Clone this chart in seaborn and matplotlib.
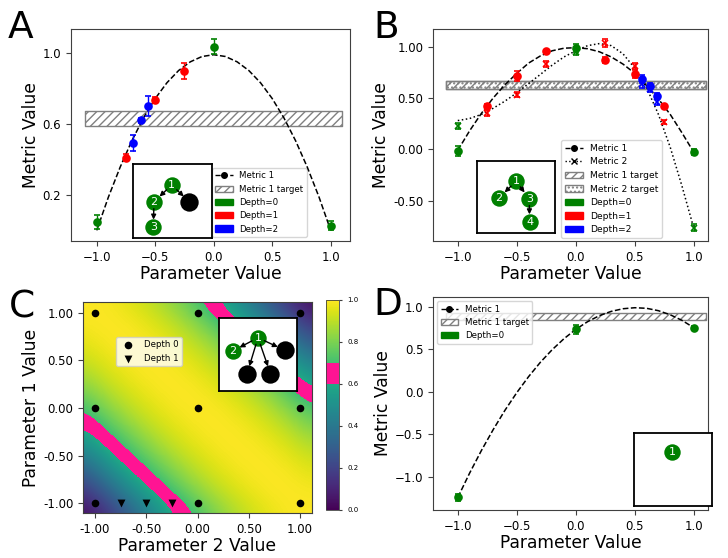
import numpy as np
import matplotlib
matplotlib.use("Agg")
import matplotlib.pyplot as plt
import seaborn as sns
from matplotlib.colors import ListedColormap
from matplotlib.lines import Line2D
import matplotlib.patches as mpatches

# ---------------- data ----------------
# Panel A
a_green_x = [-1.0, 0.0, 1.0]
a_green_y = [0.045, 1.035, 0.025]
a_green_e = [0.04, 0.042, 0.025]
a_red_x = [-0.75, -0.5, -0.25]
a_red_y = [0.41, 0.735, 0.90]
a_red_e = [0.02, 0.018, 0.045]
a_blue_x = [-0.6875, -0.625, -0.5625]
a_blue_y = [0.495, 0.62, 0.70]
a_blue_e = [0.045, 0.015, 0.055]
a_curve_x = [-1.0, -0.9, -0.8, -0.7, -0.6, -0.5, -0.4, -0.3, -0.2, -0.1, 0.0,
             0.1, 0.2, 0.3, 0.4, 0.5, 0.6, 0.7, 0.8, 0.9, 1.0]
a_curve_y = [0.0, 0.188, 0.356, 0.505, 0.634, 0.743, 0.832, 0.901, 0.950, 0.980, 0.990,
             0.980, 0.950, 0.901, 0.832, 0.743, 0.634, 0.505, 0.356, 0.188, 0.0]
a_target = (0.59, 0.67)

# Panel B
b_green_x = [-1.0, 0.0, 1.0]
b_red_x = [-0.75, -0.5, -0.25, 0.25, 0.5, 0.75]
b_blue_x = [0.5625, 0.625, 0.6875]
b_m1_green = [-0.013, 0.984, -0.026]
b_m1_green_e = [0.05, 0.04, 0.03]
b_m1_red = [0.423, 0.715, 0.955, 0.87, 0.737, 0.423]
b_m1_red_e = [0.02, 0.045, 0.015, 0.03, 0.04, 0.015]
b_m1_blue = [0.682, 0.617, 0.52]
b_m1_blue_e = [0.04, 0.03, 0.03]
b_m2_green = [0.228, 0.95, -0.762]
b_m2_green_e = [0.03, 0.03, 0.03]
b_m2_red = [0.35, 0.53, 0.83, 1.035, 0.81, 0.27]
b_m2_red_e = [0.03, 0.025, 0.03, 0.035, 0.03, 0.02]
b_m2_blue = [0.64, 0.59, 0.465]
b_m2_blue_e = [0.04, 0.03, 0.03]
b_curve_x = a_curve_x
b_curve1_y = [-0.01, 0.18, 0.35, 0.50, 0.63, 0.74, 0.84, 0.91, 0.96, 0.985, 0.99,
              0.98, 0.95, 0.90, 0.83, 0.74, 0.62, 0.49, 0.34, 0.16, -0.03]
b_curve2_y = [0.28, 0.30, 0.34, 0.40, 0.47, 0.55, 0.64, 0.73, 0.82, 0.90, 0.96,
              1.01, 1.03, 1.01, 0.93, 0.79, 0.60, 0.34, 0.02, -0.36, -0.77]
b_target1 = (0.585, 0.669)
b_target2 = (0.59, 0.665)

# Panel C
c_grid_axis = [-1.1, -0.88, -0.66, -0.44, -0.22, 0.0, 0.22, 0.44, 0.66, 0.88, 1.1]
# rows: parameter 1 from -1.1 (bottom) to 1.1 (top); columns: parameter 2 from -1.1 to 1.1
c_grid = [
    [0.03, 0.15, 0.30, 0.46, 0.59, 0.716, 0.82, 0.90, 0.955, 0.99, 1.00],
    [0.15, 0.30, 0.46, 0.59, 0.716, 0.82, 0.90, 0.955, 0.99, 1.00, 0.99],
    [0.30, 0.46, 0.59, 0.716, 0.82, 0.90, 0.955, 0.99, 1.00, 0.99, 0.955],
    [0.46, 0.59, 0.716, 0.82, 0.90, 0.955, 0.99, 1.00, 0.99, 0.955, 0.90],
    [0.59, 0.716, 0.82, 0.90, 0.955, 0.99, 1.00, 0.99, 0.955, 0.90, 0.82],
    [0.716, 0.82, 0.90, 0.955, 0.99, 1.00, 0.99, 0.955, 0.90, 0.82, 0.716],
    [0.82, 0.90, 0.955, 0.99, 1.00, 0.99, 0.955, 0.90, 0.82, 0.716, 0.59],
    [0.90, 0.955, 0.99, 1.00, 0.99, 0.955, 0.90, 0.82, 0.716, 0.59, 0.46],
    [0.955, 0.99, 1.00, 0.99, 0.955, 0.90, 0.82, 0.716, 0.59, 0.46, 0.30],
    [0.99, 1.00, 0.99, 0.955, 0.90, 0.82, 0.716, 0.59, 0.46, 0.30, 0.15],
    [1.00, 0.99, 0.955, 0.90, 0.82, 0.716, 0.59, 0.46, 0.30, 0.15, 0.03],
]
c_d0_p2 = [-1, 0, 1, -1, 0, 1, -1, 0, 1]
c_d0_p1 = [1, 1, 1, 0, 0, 0, -1, -1, -1]
c_d1_p2 = [-0.75, -0.5, -0.25]
c_d1_p1 = [-1, -1, -1]
c_target = (0.6, 0.7)

# Panel D
d_green_x = [-1.0, 0.0, 1.0]
d_green_y = [-1.243, 0.734, 0.753]
d_green_e = [0.04, 0.05, 0.02]
d_curve_x = a_curve_x
d_curve_y = [-1.243, -0.957, -0.691, -0.445, -0.217, -0.010, 0.178, 0.347, 0.495, 0.624, 0.734,
             0.824, 0.895, 0.945, 0.976, 0.988, 0.981, 0.953, 0.905, 0.839, 0.753]
d_target = (0.84, 0.93)

GREEN, RED, BLUE = "green", "red", "blue"
PINK = "#ff1493"

# ---------------- figure ----------------
W, H = 728, 558
fig = plt.figure(figsize=(W / 100, H / 100), dpi=100)


def rect(x0, y0, x1, y1):
    return [x0 / W, 1 - y1 / H, (x1 - x0) / W, (y1 - y0) / H]


TICK = 8.5
LAB = 12.3
LEG = 6.2
SPINE = "0.25"

axA = fig.add_axes(rect(71, 29, 350, 241))
axB = fig.add_axes(rect(433, 29, 708, 241))
axC = fig.add_axes(rect(83, 302, 312, 513))
caxC = fig.add_axes(rect(326, 300, 339, 510))
axD = fig.add_axes(rect(433, 297, 708, 510))


def band(ax, lo, hi, hatch, x0=-1.1, x1=1.1):
    ax.fill_between([x0, x1], lo, hi, facecolor="none", edgecolor="gray",
                    hatch=hatch, linewidth=1.0, zorder=1)


def pts(ax, x, y, e, color, marker="o"):
    ax.errorbar(x, y, yerr=e, fmt=marker, color=color, ms=5, capsize=2,
                elinewidth=1, capthick=1, zorder=4, mew=1.2)


def frame(ax):
    for sp in ax.spines.values():
        sp.set_color(SPINE)
    ax.tick_params(color=SPINE)


def style(ax):
    ax.tick_params(labelsize=TICK, length=3.5)
    ax.set_xlabel("Parameter Value", fontsize=LAB, labelpad=1)
    ax.set_ylabel("Metric Value", fontsize=LAB, labelpad=2)
    frame(ax)


def tree(r, nodes, edges):
    ax = fig.add_axes(rect(*r))
    ax.set_xlim(0, 1)
    ax.set_ylim(0, 1)
    ax.set_xticks([])
    ax.set_yticks([])
    for sp in ax.spines.values():
        sp.set_linewidth(1.3)
        sp.set_color("k")
    for a, b in edges:
        ax.annotate("", xy=nodes[b][1], xytext=nodes[a][1], zorder=6,
                    arrowprops=dict(arrowstyle="-|>", color="k", lw=1.0,
                                    shrinkA=5.0, shrinkB=5.5, mutation_scale=7))
    for lab, (x, y), col in nodes:
        ax.scatter([x], [y], s=140 if col != "k" else 175, color=col, zorder=3,
                   linewidths=0)
        if lab:
            ax.text(x, y, lab, color="white", ha="center", va="center",
                    fontsize=8, zorder=4)
    return ax


# ---------- Panel A ----------
band(axA, *a_target, "////")
sns.lineplot(x=a_curve_x, y=a_curve_y, ax=axA, color="k", linestyle="--", lw=1.1, zorder=3)
pts(axA, a_green_x, a_green_y, a_green_e, GREEN)
pts(axA, a_red_x, a_red_y, a_red_e, RED)
pts(axA, a_blue_x, a_blue_y, a_blue_e, BLUE)
axA.set_xlim(-1.22, 1.165)
axA.set_ylim(-0.06, 1.135)
axA.set_xticks([-1.0, -0.5, 0.0, 0.5, 1.0])
axA.set_yticks([0.2, 0.6, 1.0])
style(axA)
hA = [Line2D([0], [0], color="k", ls="--", marker="o", ms=4, lw=1),
      mpatches.Patch(facecolor="white", edgecolor="gray", hatch="////"),
      mpatches.Patch(color=GREEN), mpatches.Patch(color=RED), mpatches.Patch(color=BLUE)]
lgA = axA.legend(hA, ["Metric 1", "Metric 1 target", "Depth=0", "Depth=1", "Depth=2"],
                 fontsize=LEG, loc="lower left", bbox_to_anchor=(0.505, 0.019), borderaxespad=0)
lgA.set_zorder(2)

# ---------- Panel B ----------
band(axB, *b_target1, "////")
band(axB, *b_target2, "....")
sns.lineplot(x=b_curve_x, y=b_curve1_y, ax=axB, color="k", linestyle="--", lw=1.1, zorder=3)
sns.lineplot(x=b_curve_x, y=b_curve2_y, ax=axB, color="k", linestyle=":", lw=1.1, zorder=3)
pts(axB, b_green_x, b_m1_green, b_m1_green_e, GREEN)
pts(axB, b_red_x, b_m1_red, b_m1_red_e, RED)
pts(axB, b_blue_x, b_m1_blue, b_m1_blue_e, BLUE)
pts(axB, b_green_x, b_m2_green, b_m2_green_e, GREEN, "x")
pts(axB, b_red_x, b_m2_red, b_m2_red_e, RED, "x")
pts(axB, b_blue_x, b_m2_blue, b_m2_blue_e, BLUE, "x")
axB.set_xlim(-1.21, 1.12)
axB.set_ylim(-0.893, 1.172)
axB.set_xticks([-1.0, -0.5, 0.0, 0.5, 1.0])
axB.set_yticks([-0.5, 0.0, 0.5, 1.0])
axB.yaxis.set_major_formatter(matplotlib.ticker.FormatStrFormatter("%.2f"))
style(axB)
hB = [Line2D([0], [0], color="k", ls="--", marker="o", ms=4, lw=1),
      Line2D([0], [0], color="k", ls=":", marker="x", ms=4, lw=1),
      mpatches.Patch(facecolor="white", edgecolor="gray", hatch="////"),
      mpatches.Patch(facecolor="white", edgecolor="gray", hatch="...."),
      mpatches.Patch(color=GREEN), mpatches.Patch(color=RED), mpatches.Patch(color=BLUE)]
lgB = axB.legend(hB, ["Metric 1", "Metric 2", "Metric 1 target", "Metric 2 target",
                      "Depth=0", "Depth=1", "Depth=2"],
                 fontsize=6.6, loc="lower left", bbox_to_anchor=(0.465, 0.014), borderaxespad=0)
lgB.set_zorder(2)

# ---------- Panel C ----------
vals = np.linspace(0, 1, 256)
cols = plt.cm.viridis(vals)
cols[(vals >= c_target[0]) & (vals < c_target[1])] = matplotlib.colors.to_rgba(PINK)
cmapC = ListedColormap(cols)
step = c_grid_axis[1] - c_grid_axis[0]
ext = [c_grid_axis[0] - step / 2, c_grid_axis[-1] + step / 2,
       c_grid_axis[0] - step / 2, c_grid_axis[-1] + step / 2]
im = axC.imshow(np.array(c_grid), extent=ext, origin="lower", cmap=cmapC, vmin=0, vmax=1,
                interpolation="bicubic", interpolation_stage="data", aspect="auto")
sns.scatterplot(x=c_d0_p2, y=c_d0_p1, ax=axC, color="k", marker="o", s=30,
                linewidth=0, label="Depth 0", zorder=5)
sns.scatterplot(x=c_d1_p2, y=c_d1_p1, ax=axC, color="k", marker="v", s=32,
                linewidth=0, label="Depth 1", zorder=5)
axC.set_xlim(-1.117, 1.117)
axC.set_ylim(-1.10, 1.11)
axC.set_xticks([-1.0, -0.5, 0.0, 0.5, 1.0])
axC.set_yticks([-1.0, -0.5, 0.0, 0.5, 1.0])
axC.xaxis.set_major_formatter(matplotlib.ticker.FormatStrFormatter("%.2f"))
axC.yaxis.set_major_formatter(matplotlib.ticker.FormatStrFormatter("%.2f"))
axC.tick_params(labelsize=TICK, length=3.5)
axC.set_xlabel("Parameter 2 Value", fontsize=LAB, labelpad=1)
axC.set_ylabel("Parameter 1 Value", fontsize=LAB, labelpad=2)
frame(axC)
axC.legend(fontsize=LEG, loc="upper left", bbox_to_anchor=(0.144, 0.834), borderaxespad=0)
cb = fig.colorbar(im, cax=caxC)
cb.set_ticks([0.0, 0.2, 0.4, 0.6, 0.8, 1.0])
cb.ax.tick_params(labelsize=5, length=2.5, color=SPINE)
cb.outline.set_linewidth(0.6)
cb.outline.set_edgecolor(SPINE)

# ---------- Panel D ----------
band(axD, *d_target, "////")
sns.lineplot(x=d_curve_x, y=d_curve_y, ax=axD, color="k", linestyle="--", lw=1.1, zorder=3)
pts(axD, d_green_x, d_green_y, d_green_e, GREEN)
axD.set_xlim(-1.21, 1.12)
axD.set_ylim(-1.39, 1.114)
axD.set_xticks([-1.0, -0.5, 0.0, 0.5, 1.0])
axD.set_yticks([-1.0, -0.5, 0.0, 0.5, 1.0])
style(axD)
hD = [Line2D([0], [0], color="k", ls="--", marker="o", ms=4, lw=1),
      mpatches.Patch(facecolor="white", edgecolor="gray", hatch="////"),
      mpatches.Patch(color=GREEN)]
axD.legend(hD, ["Metric 1", "Metric 1 target", "Depth=0"], fontsize=LEG,
           loc="upper left", bbox_to_anchor=(0.015, 0.98), borderaxespad=0)

# ---------- tree insets ----------
tree((133, 164, 212, 238),
     [("1", (0.49, 0.716), GREEN), ("2", (0.266, 0.49), GREEN),
      ("3", (0.257, 0.145), GREEN), ("", (0.713, 0.49), "k")],
     [(0, 1), (0, 3), (1, 2)])
tree((477, 161, 555, 233),
     [("1", (0.5, 0.718), GREEN), ("2", (0.284, 0.49), GREEN),
      ("3", (0.67, 0.478), GREEN), ("4", (0.674, 0.153), GREEN)],
     [(0, 1), (0, 2), (2, 3)])
tree((219, 318, 297, 391),
     [("1", (0.5, 0.73), GREEN), ("2", (0.176, 0.548), GREEN),
      ("", (0.843, 0.558), "k"), ("", (0.36, 0.238), "k"), ("", (0.66, 0.238), "k")],
     [(0, 1), (0, 2), (0, 3), (0, 4)])
tree((634, 433, 712, 506),
     [("1", (0.49, 0.733), GREEN)], [])

# ---------- panel letters ----------
for lab, x, yb in [("A", 8, 38), ("B", 373, 38), ("C", 9, 317), ("D", 373, 315)]:
    fig.text(x / W, 1 - yb / H, lab, fontsize=27, ha="left", va="baseline")

fig.savefig("out.png", dpi=100)
